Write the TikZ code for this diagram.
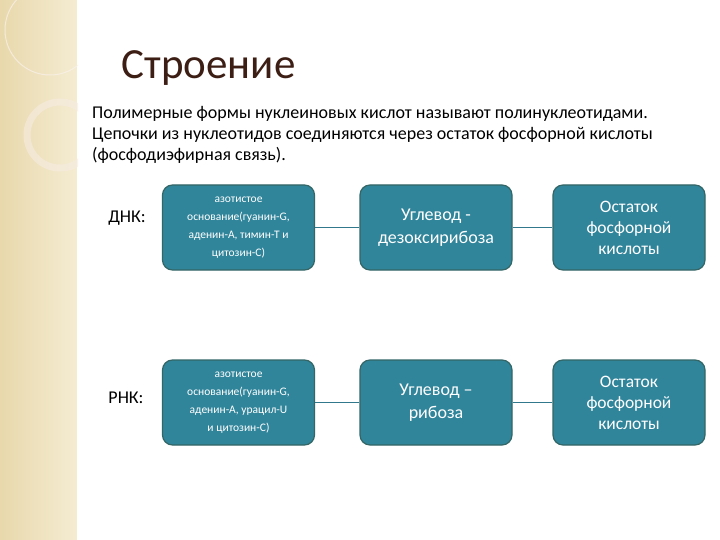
\documentclass[tikz,border=0pt]{standalone}
\usepackage{fontspec}
\setmainfont{Carlito}
\begin{document}
\begin{tikzpicture}[x=1pt,y=-1pt,
  box/.style={draw=teal!50!black!80, line width=1.2pt, fill={rgb,255:red,49;green,133;blue,155}, rounded corners=10pt, minimum width=152pt, minimum height=85pt, text=white, align=center, inner sep=2pt},
  conn/.style={draw={rgb,255:red,49;green,120;blue,140}, line width=0.7pt}]
\useasboundingbox (0,0) rectangle (720,540);
\fill[white] (0,0) rectangle (720,540);
\shade[left color={rgb,255:red,232;green,216;blue,172}, right color={rgb,255:red,245;green,236;blue,210}] (0,0) rectangle (78,540);
\draw[white, line width=1.5pt] (78,0) -- (78,540);
\begin{scope}
\clip (0,0) rectangle (78,540);
\draw[white!90!brown, line width=1pt, opacity=.7] (50,30) circle (45);
\draw[white!85!brown, line width=7pt, opacity=.6] (60,135) circle (33);
\end{scope}
\node[anchor=west, font=\fontsize{43}{48}\selectfont, text={rgb,255:red,60;green,30;blue,20}] (title) at (118,68) {Строение};
\node[anchor=north west, align=left, font=\fontsize{18}{21}\selectfont, inner sep=0] (txt) at (92,106) {Полимерные формы нуклеиновых кислот называют полинуклеотидами.\\Цепочки из нуклеотидов соединяются через остаток фосфорной кислоты\\(фосфодиэфирная связь).};
\node[font=\fontsize{18}{20}\selectfont] (dnk) at (127,218) {ДНК:};
\node[font=\fontsize{18}{20}\selectfont] (rnk) at (126,398) {РНК:};
\node[box, font=\fontsize{11.5}{18}\selectfont] (a1) at (238.5,227.5) {азотистое\\основание(гуанин-G,\\аденин-А, тимин-Т и\\цитозин-С)};
\node[box, font=\fontsize{18}{23}\selectfont] (b1) at (436,227.5) {Углевод -\\дезоксирибоза};
\node[box, font=\fontsize{17.5}{21}\selectfont] (c1) at (629,227.5) {Остаток\\фосфорной\\кислоты};
\node[box, font=\fontsize{11.5}{18}\selectfont] (a2) at (238.5,402.5) {азотистое\\основание(гуанин-G,\\аденин-А, урацил-U\\и цитозин-С)};
\node[box, font=\fontsize{18}{23}\selectfont] (b2) at (436,402.5) {Углевод –\\рибоза};
\node[box, font=\fontsize{17.5}{21}\selectfont] (c2) at (629,402.5) {Остаток\\фосфорной\\кислоты};
\draw[conn] (a1) -- (b1); \draw[conn] (b1) -- (c1);
\draw[conn] (a2) -- (b2); \draw[conn] (b2) -- (c2);
\end{tikzpicture}
\end{document}
